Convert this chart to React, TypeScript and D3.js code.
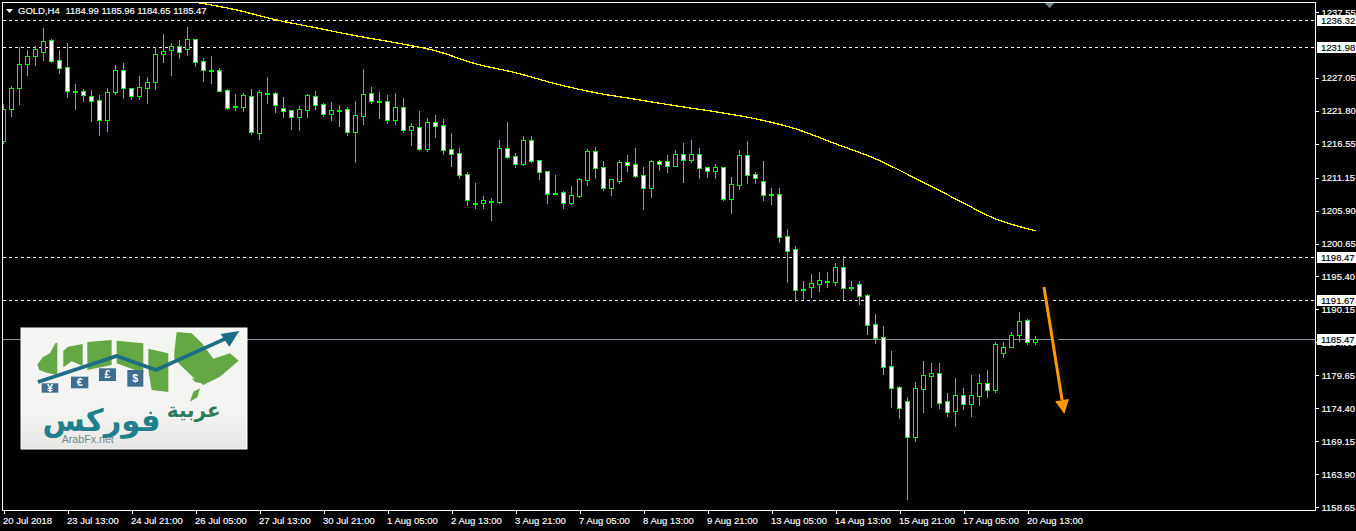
import React, { useEffect, useRef } from 'react';
import * as d3 from 'd3';

// OHLC of the H4 candles
const highs = [
    1222.92, 1225.79, 1232.01, 1231.53, 1232.17, 1235.04, 1233.29, 1231.53, 1232.65, 1226.11,
    1225.31, 1225.15, 1224.36, 1225.47, 1229.14, 1229.46, 1225.47, 1227.39, 1227.23, 1232.01,
    1234.09, 1232.65, 1233.13, 1235.20, 1233.29, 1230.26, 1230.58, 1228.66, 1225.31, 1224.52,
    1224.68, 1225.31, 1225.15, 1227.23, 1224.84, 1224.04, 1221.96, 1222.60, 1224.52, 1224.99,
    1223.08, 1223.24, 1222.76, 1222.44, 1223.40, 1228.50, 1225.63, 1224.84, 1224.36, 1224.68,
    1223.88, 1219.89, 1221.81, 1220.69, 1221.17, 1220.53, 1218.30, 1215.90, 1212.08, 1210.32,
    1208.25, 1207.93, 1217.18, 1220.05, 1215.11, 1217.82, 1217.82, 1213.99, 1212.24, 1211.60,
    1209.05, 1209.84, 1211.12, 1215.75, 1216.06, 1213.83, 1210.96, 1213.99, 1214.79, 1215.90,
    1212.87, 1213.99, 1213.99, 1214.79, 1215.59, 1216.70, 1217.18, 1215.90, 1212.87, 1213.35,
    1212.87, 1211.28, 1215.59, 1217.02, 1212.08, 1213.83, 1209.52, 1209.52, 1202.98, 1200.27,
    1194.69, 1195.81, 1196.13, 1196.13, 1197.56, 1198.68, 1194.69, 1194.69, 1192.62, 1189.43,
    1187.51, 1183.53, 1177.94, 1176.19, 1178.58, 1181.93, 1181.61, 1181.61, 1176.83, 1179.22,
    1177.62, 1179.70, 1179.86, 1180.50, 1184.96, 1184.96, 1186.56, 1189.75, 1188.63, 1185.96
];
const opens = [
    1217.02, 1222.12, 1225.47, 1229.30, 1230.58, 1231.22, 1233.13, 1229.94, 1228.82, 1224.99,
    1224.99, 1224.20, 1223.56, 1220.37, 1224.84, 1228.35, 1225.47, 1224.20, 1225.47, 1226.43,
    1230.90, 1231.53, 1232.17, 1231.69, 1233.29, 1229.78, 1228.35, 1228.35, 1225.15, 1222.60,
    1222.44, 1224.20, 1218.30, 1224.68, 1224.68, 1222.28, 1221.96, 1220.85, 1221.96, 1224.20,
    1222.92, 1221.33, 1221.96, 1222.12, 1218.46, 1221.01, 1224.68, 1223.40, 1223.40, 1220.37,
    1222.44, 1218.77, 1219.25, 1215.75, 1220.05, 1219.57, 1215.75, 1215.11, 1211.76, 1207.13,
    1207.13, 1207.45, 1207.29, 1215.90, 1214.63, 1213.35, 1217.18, 1213.99, 1212.24, 1208.73,
    1208.89, 1207.13, 1208.25, 1210.80, 1215.43, 1212.87, 1209.52, 1210.64, 1213.67, 1213.35,
    1211.60, 1209.52, 1213.83, 1213.83, 1213.03, 1214.95, 1213.99, 1214.95, 1212.87, 1212.24,
    1212.87, 1207.77, 1210.00, 1214.79, 1211.76, 1210.64, 1208.57, 1208.57, 1201.87, 1199.79,
    1193.41, 1193.73, 1194.21, 1194.69, 1194.53, 1196.92, 1193.73, 1194.21, 1192.46, 1187.83,
    1185.76, 1181.13, 1177.78, 1175.55, 1169.81, 1177.46, 1179.54, 1180.02, 1175.55, 1173.95,
    1176.51, 1175.07, 1176.35, 1178.38, 1177.30, 1183.21, 1184.17, 1186.08, 1188.47, 1184.99
];
const closes = [
    1222.12, 1225.47, 1229.30, 1230.58, 1231.69, 1232.97, 1229.78, 1228.66, 1224.99, 1224.99,
    1224.36, 1223.40, 1220.37, 1224.84, 1228.35, 1225.47, 1224.20, 1225.63, 1226.43, 1230.90,
    1231.37, 1232.17, 1231.22, 1233.29, 1229.62, 1228.35, 1228.35, 1224.99, 1222.28, 1222.60,
    1224.36, 1218.46, 1224.84, 1224.68, 1222.76, 1221.81, 1220.85, 1222.12, 1224.36, 1222.76,
    1221.33, 1221.96, 1221.96, 1218.46, 1221.17, 1224.52, 1223.40, 1223.40, 1220.37, 1222.44,
    1218.77, 1219.41, 1215.75, 1220.05, 1219.41, 1215.59, 1214.95, 1211.60, 1207.61, 1207.13,
    1207.61, 1207.45, 1215.90, 1214.47, 1213.35, 1217.18, 1213.83, 1212.08, 1208.57, 1208.73,
    1207.13, 1208.41, 1210.96, 1215.43, 1212.72, 1209.52, 1210.96, 1213.67, 1213.19, 1211.44,
    1209.52, 1213.83, 1213.35, 1213.03, 1214.95, 1213.99, 1214.95, 1212.72, 1212.24, 1212.87,
    1207.77, 1210.16, 1214.79, 1211.60, 1211.12, 1208.41, 1208.57, 1201.71, 1199.47, 1193.26,
    1193.41, 1194.37, 1194.85, 1194.69, 1196.92, 1193.57, 1193.73, 1192.30, 1187.67, 1185.60,
    1180.97, 1177.62, 1174.43, 1169.81, 1177.62, 1179.70, 1180.02, 1175.23, 1173.79, 1176.51,
    1175.07, 1176.51, 1178.38, 1177.30, 1184.64, 1184.17, 1186.08, 1188.31, 1184.96, 1185.47
];
const lows = [
    1216.70, 1221.01, 1222.92, 1227.55, 1229.14, 1229.94, 1229.62, 1227.87, 1224.04, 1222.12,
    1223.40, 1220.21, 1217.98, 1218.62, 1224.52, 1223.88, 1223.72, 1223.72, 1223.08, 1225.31,
    1229.62, 1227.55, 1230.26, 1230.74, 1228.98, 1226.59, 1226.27, 1224.99, 1222.12, 1221.96,
    1221.81, 1218.14, 1217.34, 1223.08, 1221.65, 1220.85, 1218.93, 1218.77, 1220.85, 1222.12,
    1221.01, 1220.37, 1219.41, 1217.98, 1213.67, 1219.73, 1223.08, 1220.69, 1219.89, 1219.73,
    1218.46, 1216.38, 1215.59, 1215.43, 1217.66, 1214.95, 1213.03, 1211.12, 1206.81, 1206.33,
    1206.33, 1204.42, 1207.13, 1214.31, 1212.87, 1213.19, 1213.67, 1210.96, 1207.13, 1208.57,
    1206.33, 1206.97, 1208.09, 1210.00, 1211.12, 1209.21, 1208.41, 1210.32, 1212.24, 1211.28,
    1206.17, 1208.09, 1212.40, 1212.08, 1213.03, 1210.48, 1213.67, 1211.12, 1211.28, 1211.12,
    1207.61, 1205.54, 1209.36, 1210.32, 1210.32, 1207.61, 1206.97, 1200.91, 1194.53, 1191.50,
    1191.82, 1192.14, 1193.10, 1193.73, 1194.05, 1191.82, 1193.26, 1191.02, 1186.24, 1184.80,
    1179.86, 1174.59, 1172.84, 1159.92, 1169.17, 1173.79, 1174.59, 1174.43, 1173.16, 1171.56,
    1174.27, 1173.16, 1174.91, 1176.19, 1176.98, 1182.57, 1184.17, 1185.12, 1184.64, 1184.65
];

// yellow moving average, one reading every fifth candle
const maIndex = [24, 29, 34, 39, 44, 49, 54, 59, 64, 69, 74, 79, 84, 89, 94, 99, 104, 109, 114, 119, 124, 129];
const maValues = [
    1239.11, 1237.92, 1236.32, 1235.04, 1233.77, 1232.65, 1231.37, 1229.30, 1227.87, 1226.11, 1224.68,
    1223.64, 1222.60, 1221.65, 1220.53, 1218.93, 1216.54, 1214.15, 1211.04, 1207.77, 1204.58, 1202.67
];

const priceTicks = [
    1237.55, 1227.05, 1221.80, 1216.55, 1211.15, 1205.90, 1200.65,
    1195.40, 1190.15, 1184.90, 1179.65, 1174.40, 1169.15, 1163.90, 1158.65
];
const levels = [1236.32, 1231.98, 1198.47, 1191.67];
const bid = 1185.47;

const timeLabels = [
    '20 Jul 2018', '23 Jul 13:00', '24 Jul 21:00', '26 Jul 05:00', '27 Jul 13:00', '30 Jul 21:00',
    '1 Aug 05:00', '2 Aug 13:00', '3 Aug 21:00', '7 Aug 05:00', '8 Aug 13:00', '9 Aug 21:00',
    '13 Aug 05:00', '14 Aug 13:00', '15 Aug 21:00', '17 Aug 05:00', '20 Aug 13:00'
];
const candlesPerLabel = 8;

const symbol = 'GOLD,H4';
const quote = [1184.99, 1185.96, 1184.65, 1185.47];

// hand drawn arrow, in candle index and price
const arrowFrom = { i: 130.06, p: 1193.73 };
const arrowTo = { i: 132.6, p: 1173.48 };

const W = 1356;
const H = 531;
const frame = { left: 2.5, right: 1315.5, top: 2.5, bottom: 510.5 };
const font = '"Liberation Sans", Arial, sans-serif';

const green = '#00ff00';

// logo pieces, drawn in its own little coordinate box
const logoMap = [
    'M112,134 L128,112 L150,100 L166,70 L172,68 L172,165 L140,158 L118,150 Z',
    'M190,92 L205,80 L248,72 L248,138 L215,124 L190,142 Z',
    'M262,66 L335,60 L335,135 L262,150 Z',
    'M350,62 L430,70 L430,160 L350,130 Z',
    'M445,86 L505,100 L505,216 L455,210 L445,150 Z',
    'M523,98 L530,36 L575,40 L606,70 L640,116 L690,100 L716,122 L660,170 L610,195 L578,170 L523,118 Z',
    'M570,245 L580,215 L600,205 L592,232 Z',
    'M575,175 L600,178 L606,190 L585,186 Z'
];
const logoCoins = [
    { x: 125, y: 190, w: 50, h: 28, s: '¥' },
    { x: 213, y: 170, w: 52, h: 35, s: '€' },
    { x: 297, y: 145, w: 51, h: 38, s: '£' },
    { x: 382, y: 150, w: 48, h: 50, s: '$' }
];

function drawLogo(svg: d3.Selection<SVGSVGElement, unknown, null, undefined>) {
    const defs = svg.append('defs');
    const grad = defs.append('linearGradient').attr('id', 'logoBg').attr('x1', 0).attr('y1', 0).attr('x2', 0).attr('y2', 1);
    grad.append('stop').attr('offset', '0%').attr('stop-color', '#f4f6f2');
    grad.append('stop').attr('offset', '70%').attr('stop-color', '#f4f4f2');
    grad.append('stop').attr('offset', '100%').attr('stop-color', '#e6e7e4');

    svg.append('rect')
        .attr('x', 21).attr('y', 328).attr('width', 226).attr('height', 121)
        .attr('fill', 'url(#logoBg)')
        .attr('stroke', '#ffffff')
        .attr('stroke-width', 1);

    const g = svg.append('g').attr('transform', 'translate(0, 320) scale(0.3333)');

    g.selectAll('path.map')
        .data(logoMap)
        .join('path')
        .attr('class', 'map')
        .attr('d', (d) => d)
        .attr('fill', '#64a845');

    const coins = g.selectAll('g.coin').data(logoCoins).join('g').attr('class', 'coin');
    coins.append('rect')
        .attr('x', (d) => d.x).attr('y', (d) => d.y)
        .attr('width', (d) => d.w).attr('height', (d) => d.h)
        .attr('fill', '#3f6d8e');
    coins.append('text')
        .attr('x', (d) => d.x + d.w / 2).attr('y', (d) => d.y + d.h / 2 + 11)
        .attr('text-anchor', 'middle')
        .attr('font-family', font).attr('font-weight', 700).attr('font-size', 32)
        .attr('fill', '#ffffff')
        .text((d) => d.s);

    g.append('path')
        .attr('d', 'M114,186 L350,108 L468,150 L690,50')
        .attr('fill', 'none')
        .attr('stroke', '#1c6d86')
        .attr('stroke-width', 11);
    g.append('path')
        .attr('d', 'M718,33 L662,42 L688,80 Z')
        .attr('fill', '#1c6d86');

    g.append('text')
        .attr('x', 662).attr('y', 290)
        .attr('text-anchor', 'end')
        .attr('font-family', '"DejaVu Sans", sans-serif').attr('font-weight', 700).attr('font-size', 60)
        .attr('fill', '#2f7a5c')
        .text('عربية');
    g.append('text')
        .attr('x', 482).attr('y', 332)
        .attr('text-anchor', 'end')
        .attr('font-family', '"DejaVu Sans", sans-serif').attr('font-weight', 700).attr('font-size', 92)
        .attr('fill', '#1f7f8a')
        .text('فوركس');
    g.append('text')
        .attr('x', 185).attr('y', 368)
        .attr('font-family', font).attr('font-size', 32)
        .attr('fill', '#74877f')
        .text('ArabFx.net');
}

export default function App() {
    const ref = useRef<SVGSVGElement>(null);

    useEffect(() => {
        const svg = d3.select(ref.current as SVGSVGElement);
        svg.selectAll('*').remove();

        const scale_x = d3.scaleLinear().domain([0, 129]).range([3.5, 1035.5]);
        const scale_y = d3.scaleLinear().domain([1158.65, 1237.55]).range([507, 12]);
        const py = (p: number) => Math.round(scale_y(p)) + 0.5;

        svg.append('clipPath').attr('id', 'plot')
            .append('rect')
            .attr('x', frame.left).attr('y', frame.top)
            .attr('width', frame.right - frame.left).attr('height', frame.bottom - frame.top);

        const plot = svg.append('g')
            .attr('clip-path', 'url(#plot)')
            .attr('shape-rendering', 'crispEdges');

        // level lines
        plot.selectAll('line.level')
            .data(levels)
            .join('line')
            .attr('class', 'level')
            .attr('x1', frame.left).attr('x2', frame.right)
            .attr('y1', (d) => py(d)).attr('y2', (d) => py(d))
            .attr('stroke', '#ffffff')
            .attr('stroke-dasharray', '3,3');

        plot.append('line')
            .attr('x1', frame.left).attr('x2', frame.right)
            .attr('y1', py(bid)).attr('y2', py(bid))
            .attr('stroke', '#8593a0');

        // candles
        const candles = plot.selectAll('g.candle')
            .data(d3.range(highs.length))
            .join('g')
            .attr('class', 'candle');

        const bodyHeight = (i: number) => py(Math.min(opens[i], closes[i])) - py(Math.max(opens[i], closes[i]));

        candles.append('line')
            .attr('x1', (i) => scale_x(i)).attr('x2', (i) => scale_x(i))
            .attr('y1', (i) => py(highs[i]) - 0.5).attr('y2', (i) => py(lows[i]) + 0.5)
            .attr('stroke', green);

        candles.append('rect')
            .attr('x', (i) => scale_x(i) - 2)
            .attr('y', (i) => py(Math.max(opens[i], closes[i])))
            .attr('width', 4)
            .attr('height', (i) => Math.max(1, bodyHeight(i)))
            .attr('fill', (i) => {
                if (bodyHeight(i) <= 1) return green; // doji, nothing left to fill
                return closes[i] < opens[i] ? '#ffffff' : '#000000';
            })
            .attr('stroke', green);

        // moving average
        const line = d3.line<number>()
            .curve(d3.curveMonotoneX)
            .x((_, k) => scale_x(maIndex[k]))
            .y((d) => scale_y(d));

        svg.append('path')
            .datum(maValues)
            .attr('clip-path', 'url(#plot)')
            .attr('fill', 'none')
            .attr('stroke', '#ffff00')
            .attr('stroke-width', 1.3)
            .attr('shape-rendering', 'crispEdges')
            .attr('d', line);

        // chart shift marker
        const shiftX = scale_x(130.75);
        svg.append('path')
            .attr('d', d3.line()([[shiftX - 5, 3], [shiftX + 5, 3], [shiftX, 8]]) + 'Z')
            .attr('fill', '#708090');

        // arrow
        const ax = scale_x(arrowFrom.i);
        const ay = scale_y(arrowFrom.p);
        const bx = scale_x(arrowTo.i);
        const by = scale_y(arrowTo.p);
        const len = Math.hypot(bx - ax, by - ay);
        const ux = (bx - ax) / len;
        const uy = (by - ay) / len;
        const headLength = 14;
        const headWidth = 7;
        const arrowHead = d3.line()([
            [bx, by],
            [bx - ux * headLength - uy * headWidth, by - uy * headLength + ux * headWidth],
            [bx - ux * headLength + uy * headWidth, by - uy * headLength - ux * headWidth]
        ]) + 'Z';
        // faint shadow that sits behind it
        svg.append('line')
            .attr('x1', ax + 4).attr('y1', ay + 6)
            .attr('x2', bx + 3).attr('y2', by - 6)
            .attr('stroke', '#0b0b0b')
            .attr('stroke-width', 5);
        svg.append('line')
            .attr('x1', ax).attr('y1', ay)
            .attr('x2', bx - ux * headLength).attr('y2', by - uy * headLength)
            .attr('stroke', '#ff9900')
            .attr('stroke-width', 3);
        svg.append('path')
            .attr('d', arrowHead)
            .attr('fill', '#ff9900');

        // frame
        svg.append('path')
            .attr('d', `M${frame.left},${frame.bottom} V${frame.top} H${frame.right} V${frame.bottom} H${frame.left}`)
            .attr('fill', 'none')
            .attr('stroke', '#ffffff')
            .attr('shape-rendering', 'crispEdges');

        // price axis
        const axis_y = svg.append('g')
            .attr('transform', `translate(${frame.right}, 0)`)
            .attr('shape-rendering', 'crispEdges')
            .call(d3.axisRight(scale_y)
                .tickValues(priceTicks)
                .tickFormat((d) => (d as number).toFixed(2))
                .tickSize(3)
                .tickPadding(3));
        axis_y.select('.domain').remove();
        axis_y.selectAll('line').attr('stroke', '#ffffff');
        axis_y.selectAll('text')
            .attr('fill', '#ffffff')
            .attr('stroke', '#ffffff')
            .attr('stroke-width', 0.15)
            .attr('font-family', font)
            .attr('font-size', 9.5);

        // boxes for the lines on the price axis
        const boxes = svg.selectAll('g.box')
            .data([...levels, bid])
            .join('g')
            .attr('class', 'box');
        boxes.append('rect')
            .attr('x', 1317).attr('width', 39)
            .attr('y', (d) => py(d) - 5.5).attr('height', 11)
            .attr('fill', '#ffffff')
            .attr('shape-rendering', 'crispEdges');
        boxes.append('text')
            .attr('x', 1321).attr('y', (d) => py(d) + 3.5)
            .attr('fill', '#000000')
            .attr('stroke', '#000000')
            .attr('stroke-width', 0.15)
            .attr('font-family', font)
            .attr('font-size', 9.5)
            .text((d) => d.toFixed(2));

        // time axis
        const axis_x = svg.append('g')
            .attr('transform', `translate(0, ${frame.bottom})`)
            .attr('shape-rendering', 'crispEdges')
            .call(d3.axisBottom(scale_x)
                .tickValues(timeLabels.map((_, k) => k * candlesPerLabel))
                .tickFormat((_, k) => timeLabels[k])
                .tickSize(3)
                .tickPadding(4));
        axis_x.select('.domain').remove();
        axis_x.selectAll('line').attr('stroke', '#ffffff');
        axis_x.selectAll('text')
            .attr('text-anchor', 'start')
            .attr('dx', -1)
            .attr('fill', '#ffffff')
            .attr('stroke', '#ffffff')
            .attr('stroke-width', 0.15)
            .attr('font-family', font)
            .attr('font-size', 9.5);

        // title
        svg.append('path')
            .attr('d', d3.line()([[6, 9], [13, 9], [9.5, 13]]) + 'Z')
            .attr('fill', '#ffffff');
        svg.append('text')
            .attr('x', 18).attr('y', 14)
            .attr('fill', '#ffffff')
            .attr('stroke', '#ffffff')
            .attr('stroke-width', 0.15)
            .attr('font-family', font)
            .attr('font-size', 9.5)
            .text(symbol);
        svg.append('text')
            .attr('x', 65.5).attr('y', 14)
            .attr('fill', '#ffffff')
            .attr('stroke', '#ffffff')
            .attr('stroke-width', 0.15)
            .attr('font-family', font)
            .attr('font-size', 9.5)
            .attr('textLength', 141)
            .text(quote.map((d) => d.toFixed(2)).join(' '));

        drawLogo(svg);
    }, []);

    return (
        <svg
            ref={ref}
            width={W}
            height={H}
            style={{ position: 'fixed', left: 0, top: 0, background: '#000000' }}
        />
    );
}
